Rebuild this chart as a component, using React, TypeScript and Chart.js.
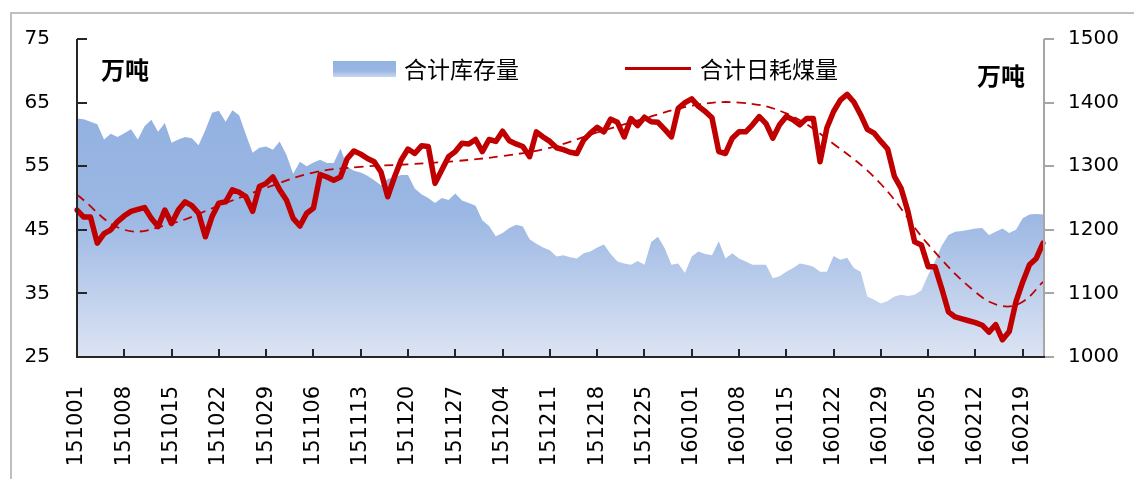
import React, { useEffect, useRef } from 'react';
import { Chart, registerables } from 'chart.js';

Chart.register(...registerables);

// ---- data ----
const START_YEAR = 2015;
const START_MONTH = 9; // October (0-based)
const START_DAY = 1;
const DAY_COUNT = 145;
const MISSING_DATES = ['151101'];

const LABELS: string[] = [];
for (let i = 0; i < DAY_COUNT; i++) {
  const d = new Date(START_YEAR, START_MONTH, START_DAY + i);
  const yy = String(d.getFullYear() % 100).padStart(2, '0');
  const mm = String(d.getMonth() + 1).padStart(2, '0');
  const dd = String(d.getDate()).padStart(2, '0');
  const s = yy + mm + dd;
  if (MISSING_DATES.indexOf(s) === -1) LABELS.push(s);
}

// 合计日耗煤量 (左轴, 万吨)
const CONSUMPTION = [
  48.1, 47.0, 47.0, 42.9, 44.4, 45.0, 46.3, 47.2, 47.9, 48.2,
  48.5, 46.8, 45.5, 48.1, 46.0, 48.1, 49.4, 48.8, 47.6, 43.9,
  47.1, 49.2, 49.4, 51.3, 50.9, 50.2, 47.9, 51.8, 52.3, 53.3,
  51.3, 49.7, 46.8, 45.6, 47.6, 48.4, 53.7, 53.3, 52.8, 53.3,
  56.2, 57.4, 56.9, 56.2, 55.7, 54.1, 50.2, 53.3, 56.0, 57.7,
  57.0, 58.2, 58.1, 52.3, 54.4, 56.5, 57.3, 58.6, 58.5, 59.2,
  57.3, 59.2, 58.9, 60.5, 59.0, 58.5, 58.1, 56.5, 60.4, 59.6,
  58.9, 57.9, 57.6, 57.2, 57.0, 59.1, 60.2, 61.1, 60.4, 62.4,
  61.9, 59.6, 62.5, 61.4, 62.7, 62.0, 61.9, 60.8, 59.6, 64.1,
  65.0, 65.6, 64.4, 63.6, 62.6, 57.3, 57.0, 59.4, 60.4, 60.4,
  61.5, 62.8, 61.7, 59.4, 61.5, 62.8, 62.3, 61.5, 62.5, 62.5,
  55.7, 61.0, 63.6, 65.4, 66.3, 65.1, 63.1, 60.8, 60.2, 58.9,
  57.7, 53.4, 51.5, 47.9, 43.1, 42.6, 39.2, 39.2, 35.8, 32.1,
  31.3, 31.0, 30.7, 30.4, 30.0, 28.9, 30.1, 27.7, 29.0, 33.7,
  36.8, 39.5, 40.5, 42.9,
];

// 合计库存量 (右轴, 万吨)
const INVENTORY = [
  1375, 1374, 1370, 1366, 1342, 1351, 1346, 1352, 1358, 1342,
  1363, 1373, 1354, 1368, 1337, 1342, 1346, 1344, 1333, 1357,
  1384, 1387, 1370, 1388, 1380, 1350, 1321, 1329, 1331, 1326,
  1339, 1318, 1288, 1307, 1300, 1306, 1310, 1305, 1305, 1328,
  1299, 1293, 1290, 1285, 1278, 1270, 1280, 1283, 1286, 1286,
  1265, 1256, 1250, 1242, 1250, 1247, 1257, 1246, 1242, 1238,
  1215, 1206, 1190, 1195, 1203, 1208, 1205, 1185, 1178, 1172,
  1168, 1158, 1160, 1157, 1155, 1163, 1166, 1172, 1177, 1162,
  1150, 1147, 1145, 1151, 1145, 1181, 1189, 1171, 1145, 1147,
  1132, 1158, 1166, 1162, 1160, 1182, 1155, 1163, 1155, 1150,
  1145, 1145, 1145, 1124, 1127, 1134, 1140, 1147, 1145, 1142,
  1134, 1134, 1159, 1153, 1156, 1140, 1134, 1095, 1090, 1084,
  1088, 1095, 1098, 1096, 1098, 1105, 1129, 1150, 1175, 1192,
  1197, 1198, 1200, 1202, 1203, 1192, 1197, 1202, 1195, 1200,
  1218, 1224, 1225, 1224,
];

// 趋势线 (虚线) 读数点
const TREND_INDEX = [0, 7, 14, 21, 28, 35, 42, 49, 56, 63, 70, 77, 84, 91, 98, 105, 112, 119, 126, 133, 137, 140, 143];
const TREND_VALUE = [50.5, 45.0, 46.0, 48.8, 51.6, 54.0, 54.9, 55.3, 55.8, 56.6, 57.9, 60.3, 62.5, 64.5, 65.0, 63.3, 58.5, 52.2, 42.7, 35.2, 33.0, 33.7, 36.8];

const LEFT_TICKS = { min: 25, max: 75, step: 10 };
const RIGHT_TICKS = { min: 1000, max: 1500, step: 100 };
const LABEL_EVERY = 7;

const TREND: (number | null)[] = LABELS.map(() => null);
TREND_INDEX.forEach((idx, k) => {
  TREND[idx] = TREND_VALUE[k];
});

const RED = '#C00000';

const axesPlugin = {
  id: 'excelAxes',
  afterDatasetsDraw(chart: any) {
    const { ctx, chartArea, scales } = chart;
    const { left, right, top, bottom } = chartArea;
    ctx.save();
    // right axis (grey, ticks outward)
    ctx.strokeStyle = '#a6a6a6';
    ctx.lineWidth = 2;
    ctx.beginPath();
    ctx.moveTo(right + 1, top);
    ctx.lineTo(right + 1, bottom);
    for (let v = RIGHT_TICKS.min; v <= RIGHT_TICKS.max; v += RIGHT_TICKS.step) {
      const y = Math.round(scales.y1.getPixelForValue(v));
      ctx.moveTo(right + 1, y);
      ctx.lineTo(right + 11, y);
    }
    ctx.stroke();

    // left axis (dark, ticks inward)
    ctx.strokeStyle = '#262626';
    ctx.beginPath();
    ctx.moveTo(left, top);
    ctx.lineTo(left, bottom);
    for (let v = LEFT_TICKS.min; v <= LEFT_TICKS.max; v += LEFT_TICKS.step) {
      const y = Math.round(scales.y.getPixelForValue(v));
      ctx.moveTo(left, y);
      ctx.lineTo(left + 10, y);
    }
    ctx.stroke();

    // bottom axis
    ctx.beginPath();
    ctx.moveTo(left - 1, bottom);
    ctx.lineTo(right + 2, bottom);
    for (let i = 0; i < LABELS.length; i += LABEL_EVERY) {
      const x = Math.round(scales.x.getPixelForValue(i));
      ctx.moveTo(x, bottom);
      ctx.lineTo(x, bottom - 8);
    }
    ctx.stroke();
    ctx.restore();
  },
};

export default function App() {
  const canvasRef = useRef<HTMLCanvasElement | null>(null);

  useEffect(() => {
    if (!canvasRef.current) return;
    const chart = new Chart(canvasRef.current, {
      type: 'line',
      data: {
        labels: LABELS,
        datasets: [
          {
            label: '合计日耗煤量',
            data: CONSUMPTION,
            yAxisID: 'y',
            borderColor: RED,
            borderWidth: 5.5,
            pointRadius: 0,
            tension: 0,
            fill: false,
            order: 0,
            borderJoinStyle: 'round',
            borderCapStyle: 'round',
          },
          {
            label: 'trend',
            data: TREND,
            yAxisID: 'y',
            borderColor: RED,
            borderWidth: 1.8,
            borderDash: [9, 6],
            pointRadius: 0,
            tension: 0.4,
            spanGaps: true,
            fill: false,
            order: 1,
          },
          {
            label: '合计库存量',
            data: INVENTORY,
            yAxisID: 'y1',
            borderWidth: 0,
            borderColor: 'rgba(0,0,0,0)',
            pointRadius: 0,
            tension: 0,
            fill: 'start',
            order: 2,
            backgroundColor: (c: any) => {
              const ca = c.chart.chartArea;
              if (!ca) return '#95B3E2';
              const g = c.chart.ctx.createLinearGradient(0, ca.top, 0, ca.bottom);
              g.addColorStop(0, '#8EAEE0');
              g.addColorStop(0.55, '#9BB7E3');
              g.addColorStop(1, '#DCE4F3');
              return g;
            },
          },
        ],
      },
      options: {
        animation: false,
        responsive: false,
        devicePixelRatio: 1,
        events: [],
        layout: { padding: { top: 39, left: 0, right: 0, bottom: 0 } },
        plugins: { legend: { display: false }, tooltip: { enabled: false }, title: { display: false } },
        scales: {
          x: {
            type: 'category',
            offset: false,
            grid: { display: false, drawTicks: false },
            border: { display: false },
            afterBuildTicks: (s: any) => {
              s.ticks = s.ticks.filter((t: any) => t.value % LABEL_EVERY === 0);
            },
            afterFit: (s: any) => {
              s.height = 122;
            },
            ticks: {
              autoSkip: false,
              maxRotation: 90,
              minRotation: 90,
              padding: 29,
              color: '#000',
              font: { family: 'DejaVu Sans', size: 21 },
            },
          },
          y: {
            position: 'left',
            min: LEFT_TICKS.min,
            max: LEFT_TICKS.max,
            grid: { display: false, drawTicks: false },
            border: { display: false },
            afterFit: (s: any) => {
              s.width = 77;
            },
            ticks: {
              stepSize: LEFT_TICKS.step,
              padding: 27,
              color: '#000',
              font: { family: 'DejaVu Sans', size: 20 },
              callback: (v: any) => String(v),
            },
          },
          y1: {
            position: 'right',
            min: RIGHT_TICKS.min,
            max: RIGHT_TICKS.max,
            grid: { display: false, drawTicks: false },
            border: { display: false },
            afterFit: (s: any) => {
              s.width = 91;
            },
            ticks: {
              stepSize: RIGHT_TICKS.step,
              padding: 25,
              color: '#000',
              font: { family: 'DejaVu Sans', size: 20 },
              callback: (v: any) => String(v),
            },
          },
        },
      },
      plugins: [axesPlugin],
    });
    return () => chart.destroy();
  }, []);

  const cjk = '"Noto Sans CJK SC", "Noto Sans", sans-serif';

  return (
    <div style={{ position: 'fixed', left: 0, top: 0, width: 1134, height: 479, background: '#fff', overflow: 'hidden' }}>
      <div
        style={{
          position: 'absolute',
          left: 10,
          top: 12,
          width: 1130,
          height: 480,
          border: '2px solid #bfbfbf',
          boxSizing: 'border-box',
        }}
      />
      <canvas ref={canvasRef} width={1134} height={479} style={{ position: 'absolute', left: 0, top: 0 }} />
      <div style={{ position: 'absolute', left: 101, top: 55, fontFamily: cjk, fontWeight: 700, fontSize: 24, lineHeight: '28px', color: '#000' }}>
        万吨
      </div>
      <div style={{ position: 'absolute', left: 977, top: 61, fontFamily: cjk, fontWeight: 700, fontSize: 24, lineHeight: '28px', color: '#000' }}>
        万吨
      </div>
      <div
        style={{
          position: 'absolute',
          left: 333,
          top: 61,
          width: 63,
          height: 16,
          background: 'linear-gradient(#93B2E1 0%, #9AB6E3 60%, #C9D7EF 100%)',
        }}
      />
      <div style={{ position: 'absolute', left: 404, top: 54, fontFamily: cjk, fontSize: 23, lineHeight: '28px', color: '#000' }}>
        合计库存量
      </div>
      <div style={{ position: 'absolute', left: 625, top: 67, width: 66, height: 3, background: RED }} />
      <div style={{ position: 'absolute', left: 700, top: 54, fontFamily: cjk, fontSize: 23, lineHeight: '28px', color: '#000' }}>
        合计日耗煤量
      </div>
    </div>
  );
}
